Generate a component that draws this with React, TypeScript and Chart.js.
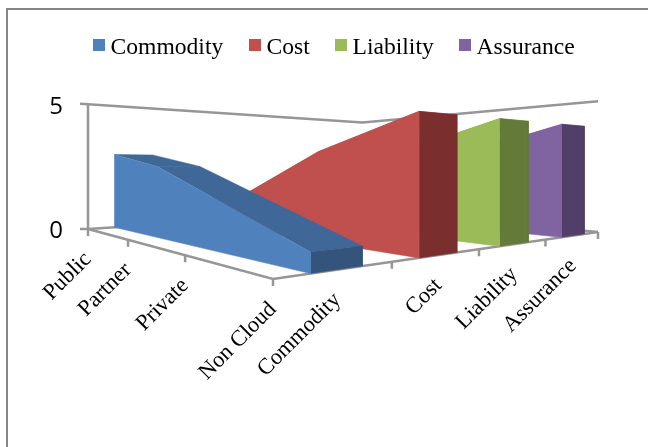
import React, { useEffect, useRef } from "react";
import { Chart, registerables } from "chart.js";

Chart.register(...registerables);

// ---- data ----
const categories = ["Public", "Partner", "Private", "Non Cloud"];
const seriesNames = ["Commodity", "Cost", "Liability", "Assurance"];
const commodity = [3, 2.5, 1.5, 0.5];
const cost = [1, 1.5, 3, 4];
const liability = [1, 2, 3, 4];
const assurance = [1, 2, 3, 4];
const valueTicks = [0, 5];
const frontColors = ["#4F81BD", "#C0504D", "#9BBB59", "#8064A2"];
const topColors = ["#3F6797", "#9A403E", "#7C9647", "#664F82"];
const endColors = ["#34547C", "#7A2F2E", "#647A38", "#523F69"];

// ---- perspective box of the 3-D plot ----
const W_LEFT = 1.81, W_RIGHT = 1.73;
const LEFT = { x: 88, y: 229 }, FRONT = { x: 273, y: 279 }, RIGHT = { x: 598, y: 232 };
const HEIGHT = 226, AXIS_MAX = 5, GRAY = "#969696";

function project(cat: number, ser: number, val: number) {
  const u = cat / (categories.length - 1);
  const t = ser / seriesNames.length;
  const X = LEFT.x * W_LEFT + u * (FRONT.x - LEFT.x * W_LEFT) + t * (RIGHT.x * W_RIGHT - FRONT.x);
  const Y = LEFT.y * W_LEFT + u * (FRONT.y - LEFT.y * W_LEFT) + t * (RIGHT.y * W_RIGHT - FRONT.y);
  const w = W_LEFT + u * (1 - W_LEFT) + t * (W_RIGHT - 1);
  return { x: X / w, y: (Y - (val / AXIS_MAX) * HEIGHT) / w };
}

const poly = (label: string, color: string, data: { x: number; y: number }[]) => ({
  label, data, showLine: true, fill: "shape", backgroundColor: color,
  borderColor: color, borderWidth: 0.5, pointRadius: 0, clip: false,
});
const stroke = (label: string, data: { x: number; y: number }[]) => ({
  label, data, showLine: true, fill: false, borderColor: GRAY,
  borderWidth: 2.5, pointRadius: 0, clip: false,
});

function buildDatasets() {
  const nC = categories.length - 1, nS = seriesNames.length;
  const out: any[] = [];
  // walls, floor edges, axes
  out.push(stroke("wall left", [project(0, 0, 0), project(0, 0, 5)]));
  out.push(stroke("wall top", [
    { x: project(0, 0, 5).x - 8, y: project(0, 0, 5).y - 0.5 },
    project(0, 0, 5), project(0, nS, 5), project(nC, nS, 5),
  ]));
  out.push(stroke("floor back", [
    { x: LEFT.x - 8, y: LEFT.y }, project(0, 0, 0), project(0, nS, 0), project(nC, nS, 0),
  ]));
  out.push(stroke("floor front", [project(0, 0, 0), project(nC, 0, 0), project(nC, nS, 0)]));
  categories.forEach((_, i) => {
    const p = project(i, 0, 0);
    out.push(stroke("tick c" + i, [p, { x: p.x, y: p.y + 7 }]));
  });
  for (let s = 1; s <= nS; s++) {
    const p = project(nC, s, 0);
    out.push(stroke("tick s" + s, [p, { x: p.x, y: p.y + 7 }]));
  }
  // slabs, back to front
  const values = [commodity, cost, liability, assurance];
  for (let k = nS - 1; k >= 0; k--) {
    const v = values[k];
    const s0 = k + 0.28, s1 = k + 0.72;
    for (let i = 0; i < nC; i++) {
      out.push(poly(seriesNames[k] + " top " + i, topColors[k], [
        project(i, s0, v[i]), project(i, s1, v[i]), project(i + 1, s1, v[i + 1]), project(i + 1, s0, v[i + 1]),
      ]));
    }
    out.push(poly(seriesNames[k] + " end", endColors[k], [
      project(nC, s0, v[nC]), project(nC, s1, v[nC]), project(nC, s1, 0), project(nC, s0, 0),
    ]));
    out.push(poly(seriesNames[k], frontColors[k], [
      ...v.map((val, i) => project(i, s0, val)),
      project(nC, s0, 0), project(0, s0, 0),
    ]));
  }
  return out.map((d, i) => ({ ...d, order: out.length - i }));
}

const textPlugin = {
  id: "boxText",
  beforeDraw(chart: any) {
    const { ctx } = chart;
    ctx.save();
    ctx.strokeStyle = "#868686";
    ctx.lineWidth = 2;
    ctx.beginPath();
    ctx.moveTo(7, 460);
    ctx.lineTo(7, 9);
    ctx.lineTo(660, 9);
    ctx.stroke();
    ctx.restore();
  },
  afterDraw(chart: any) {
    const { ctx } = chart;
    const nC = categories.length - 1;
    ctx.save();
    ctx.fillStyle = "#000";
    // legend
    const swatchX = [93, 249, 335, 459];
    seriesNames.forEach((name, i) => {
      ctx.fillStyle = frontColors[i];
      ctx.fillRect(swatchX[i], 39, 12, 12);
      ctx.fillStyle = "#000";
      ctx.font = "23.6px 'Liberation Serif'";
      ctx.textAlign = "left";
      ctx.textBaseline = "alphabetic";
      ctx.fillText(name, swatchX[i] + 17.5, 54);
    });
    // value labels
    ctx.font = "24px 'Open Sans'";
    ctx.textAlign = "right";
    ctx.textBaseline = "middle";
    valueTicks.forEach((v) => {
      const p = project(0, 0, v);
      ctx.fillText(String(v), 63, p.y + (v === 0 ? 2 : 3));
    });
    // rotated axis labels
    const drawLabel = (txt: string, p: { x: number; y: number }) => {
      ctx.save();
      ctx.translate(p.x, p.y + 27);
      ctx.rotate(-Math.PI / 4);
      ctx.font = "22.5px 'Liberation Serif'";
      ctx.textAlign = "right";
      ctx.textBaseline = "middle";
      ctx.fillText(txt, 0, 0);
      ctx.restore();
    };
    categories.forEach((c, i) => drawLabel(c, project(i, 0, 0)));
    seriesNames.forEach((n, s) => drawLabel(n, project(nC, s + 0.5, 0)));
    ctx.restore();
  },
};

export default function App() {
  const ref = useRef<HTMLCanvasElement>(null);
  useEffect(() => {
    document.body.style.margin = "0";
    const chart = new Chart(ref.current!, {
      type: "scatter",
      data: { datasets: buildDatasets() as any },
      options: {
        responsive: false,
        animation: false,
        devicePixelRatio: 1,
        layout: { padding: 0 },
        plugins: { legend: { display: false }, tooltip: { enabled: false } },
        scales: {
          x: { type: "linear", min: 0, max: 648, display: false },
          y: { type: "linear", min: 0, max: 447, reverse: true, display: false },
        },
      },
      plugins: [textPlugin],
    });
    return () => chart.destroy();
  }, []);
  return <canvas ref={ref} width={648} height={447} style={{ display: "block" }} />;
}
